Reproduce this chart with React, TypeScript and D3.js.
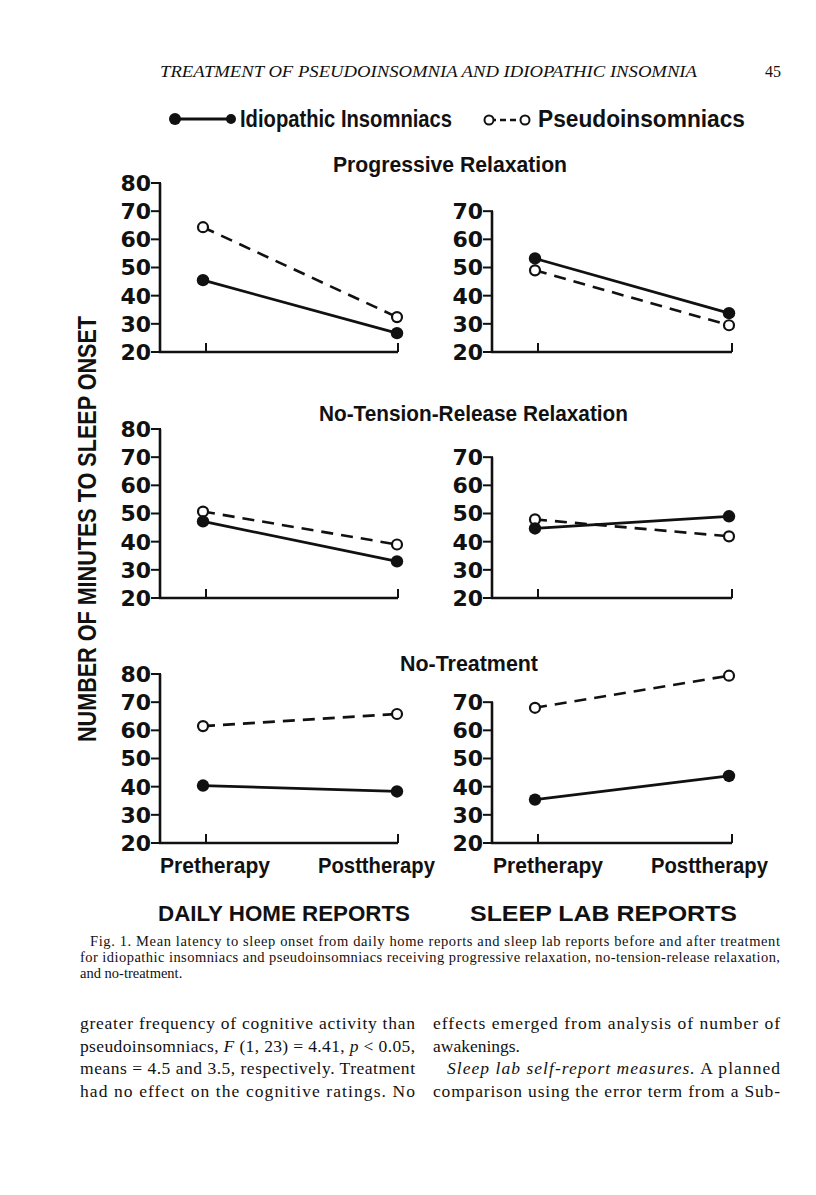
import React, { useEffect } from 'react';
import * as d3 from 'd3';

const phases = ['Pretherapy', 'Posttherapy'];
const treatments = ['Progressive Relaxation', 'No-Tension-Release Relaxation', 'No-Treatment'];
const sources = ['DAILY HOME REPORTS', 'SLEEP LAB REPORTS'];

// mean minutes to sleep onset, [pre, post], one row per treatment
const homeIdiopathic = [[45.5, 26.7], [47.2, 33.0], [40.4, 38.3]];
const homePseudo = [[64.3, 32.4], [50.7, 39.0], [61.5, 65.8]];
const labIdiopathic = [[53.2, 33.8], [44.7, 49.0], [35.4, 43.8]];
const labPseudo = [[49.0, 29.5], [47.9, 41.9], [68.0, 79.4]];

const homeTicks = [20, 30, 40, 50, 60, 70, 80];
const labTicks = [20, 30, 40, 50, 60, 70];

const captionLines = [
  'Fig. 1. Mean latency to sleep onset from daily home reports and sleep lab reports before and after treatment',
  'for idiopathic insomniacs and pseudoinsomniacs receiving progressive relaxation, no-tension-release relaxation,',
  'and no-treatment.',
];

const ink = '#111';
const figFont = '"Liberation Sans", Arial, sans-serif';
const tickFont = '"DejaVu Sans", sans-serif';
const serif = '"Liberation Serif", "Times New Roman", serif';

const rowBase = [352, 598, 843];
const colAxisX = [160, 492];
const colAxisLen = [238, 240];

interface PanelProps {
  axisX: number;
  axisLen: number;
  base: number;
  ticks: number[];
  idio: number[];
  pseudo: number[];
}

const Panel: React.FC<PanelProps> = ({ axisX, axisLen, base, ticks, idio, pseudo }) => {
  const y = d3.scaleLinear().domain([20, 80]).range([base, base - 169]);
  const x = d3.scalePoint<string>().domain(phases).range([axisX + 43, axisX + 237]);
  const tickX = d3.scalePoint<string>().domain(phases).range([axisX + 46, axisX + axisLen]);
  const line = d3.line<number>().x((_, i) => x(phases[i])!).y(d => y(d));
  const top = ticks[ticks.length - 1];

  return (
    <g>
      <line x1={axisX} x2={axisX} y1={y(20) + 1} y2={y(top)} stroke={ink} strokeWidth={2.6} />
      <line x1={axisX - 1} x2={axisX + axisLen} y1={y(20)} y2={y(20)} stroke={ink} strokeWidth={2.6} />
      {phases.map(p => (
        <line key={p} x1={tickX(p)} x2={tickX(p)} y1={y(20)} y2={y(20) - 9} stroke={ink} strokeWidth={2} />
      ))}
      {ticks.map(t => (
        <g key={t}>
          <line x1={axisX - 9} x2={axisX + 1} y1={y(t)} y2={y(t)} stroke={ink} strokeWidth={2} />
          <text x={axisX - 9} y={y(t)} dy="0.36em" textAnchor="end" fontFamily={tickFont}
            fontWeight="bold" fontSize={22} fill={ink}>{t}</text>
        </g>
      ))}
      <path d={line(pseudo)!} fill="none" stroke={ink} strokeWidth={2.6} strokeDasharray="12 8" />
      <path d={line(idio)!} fill="none" stroke={ink} strokeWidth={2.8} />
      {pseudo.map((v, i) => (
        <circle key={'p' + i} cx={x(phases[i])} cy={y(v)} r={5} fill="#fff" stroke={ink} strokeWidth={2.2} />
      ))}
      {idio.map((v, i) => (
        <circle key={'i' + i} cx={x(phases[i])} cy={y(v)} r={6.2} fill={ink} />
      ))}
    </g>
  );
};

const App: React.FC = () => {
  useEffect(() => {
    document.body.style.margin = '0';
  }, []);

  const titleY = [172, 421, 671];
  const titleSpan = [[333, 567], [319, 628], [400, 538]];

  return (
    <svg width={816} height={1195} viewBox="0 0 816 1195" style={{ display: 'block', background: '#fff' }}>
      {/* running head */}
      <text x={160} y={77} fontFamily={serif} fontStyle="italic" fontSize={16} fill={ink}
        textLength={537} lengthAdjust="spacingAndGlyphs">
        TREATMENT OF PSEUDOINSOMNIA AND IDIOPATHIC INSOMNIA
      </text>
      <text x={781} y={77} textAnchor="end" fontFamily={serif} fontSize={16} fill={ink}>45</text>

      {/* legend */}
      <line x1={175} x2={231} y1={119} y2={119} stroke={ink} strokeWidth={2.8} />
      <circle cx={175} cy={119} r={6} fill={ink} />
      <circle cx={231} cy={119} r={5} fill={ink} />
      <text x={240} y={127} fontFamily={figFont} fontWeight="bold" fontSize={23} fill={ink}
        textLength={212} lengthAdjust="spacingAndGlyphs">Idiopathic Insomniacs</text>
      <line x1={490} x2={524} y1={120} y2={120} stroke={ink} strokeWidth={2.4} strokeDasharray="6 4" />
      <circle cx={489} cy={120} r={4.5} fill="#fff" stroke={ink} strokeWidth={2} />
      <circle cx={525} cy={120} r={4.5} fill="#fff" stroke={ink} strokeWidth={2} />
      <text x={538} y={127} fontFamily={figFont} fontWeight="bold" fontSize={23} fill={ink}
        textLength={207} lengthAdjust="spacingAndGlyphs">Pseudoinsomniacs</text>

      {/* y axis title */}
      <text transform="translate(96,529) rotate(-90)" textAnchor="middle" fontFamily={figFont}
        fontWeight="bold" fontSize={25} fill={ink} textLength={426} lengthAdjust="spacingAndGlyphs">
        NUMBER OF MINUTES TO SLEEP ONSET
      </text>

      {treatments.map((t, r) => (
        <text key={t} x={titleSpan[r][0]} y={titleY[r]} fontFamily={figFont} fontWeight="bold"
          fontSize={22} fill={ink} textLength={titleSpan[r][1] - titleSpan[r][0]}
          lengthAdjust="spacingAndGlyphs">{t}</text>
      ))}

      {treatments.map((t, r) => (
        <g key={'row' + t}>
          <Panel axisX={colAxisX[0]} axisLen={colAxisLen[0]} base={rowBase[r]} ticks={homeTicks}
            idio={homeIdiopathic[r]} pseudo={homePseudo[r]} />
          <Panel axisX={colAxisX[1]} axisLen={colAxisLen[1]} base={rowBase[r]} ticks={labTicks}
            idio={labIdiopathic[r]} pseudo={labPseudo[r]} />
        </g>
      ))}

      {/* phase labels */}
      {[[160, 270, 318, 435], [493, 603, 651, 768]].map((s, c) => (
        <g key={'ph' + c}>
          <text x={s[0]} y={873} fontFamily={figFont} fontWeight="bold" fontSize={22} fill={ink}
            textLength={s[1] - s[0]} lengthAdjust="spacingAndGlyphs">{phases[0]}</text>
          <text x={s[2]} y={873} fontFamily={figFont} fontWeight="bold" fontSize={22} fill={ink}
            textLength={s[3] - s[2]} lengthAdjust="spacingAndGlyphs">{phases[1]}</text>
        </g>
      ))}

      {/* source labels */}
      <text x={158} y={921} fontFamily={figFont} fontWeight="bold" fontSize={22} fill={ink}
        textLength={252} lengthAdjust="spacingAndGlyphs">{sources[0]}</text>
      <text x={470} y={921} fontFamily={figFont} fontWeight="bold" fontSize={22} fill={ink}
        textLength={267} lengthAdjust="spacingAndGlyphs">{sources[1]}</text>

      {/* caption */}
      <text x={90} y={946} fontFamily={serif} fontSize={14.5} fill={ink} textLength={690} lengthAdjust="spacing">
        {captionLines[0]}
      </text>
      <text x={80} y={962} fontFamily={serif} fontSize={14.5} fill={ink} textLength={700} lengthAdjust="spacing">
        {captionLines[1]}
      </text>
      <text x={80} y={978} fontFamily={serif} fontSize={14.5} fill={ink}>{captionLines[2]}</text>

      {/* body text */}
      <g fontFamily={serif} fontSize={17.5} fill={ink}>
        <text x={80} y={1029} textLength={335} lengthAdjust="spacing">greater frequency of cognitive activity than</text>
        <text x={80} y={1052} textLength={335} lengthAdjust="spacing">
          pseudoinsomniacs, <tspan fontStyle="italic">F</tspan> (1, 23) = 4.41, <tspan fontStyle="italic">p</tspan> {'<'} 0.05,
        </text>
        <text x={80} y={1074} textLength={335} lengthAdjust="spacing">means = 4.5 and 3.5, respectively. Treatment</text>
        <text x={80} y={1097} textLength={335} lengthAdjust="spacing">had no effect on the cognitive ratings. No</text>

        <text x={433} y={1029} textLength={347} lengthAdjust="spacing">effects emerged from analysis of number of</text>
        <text x={433} y={1052}>awakenings.</text>
        <text x={447} y={1074} textLength={333} lengthAdjust="spacing">
          <tspan fontStyle="italic">Sleep lab self-report measures.</tspan> A planned
        </text>
        <text x={433} y={1097} textLength={347} lengthAdjust="spacing">comparison using the error term from a Sub-</text>
      </g>
    </svg>
  );
};

export default App;
